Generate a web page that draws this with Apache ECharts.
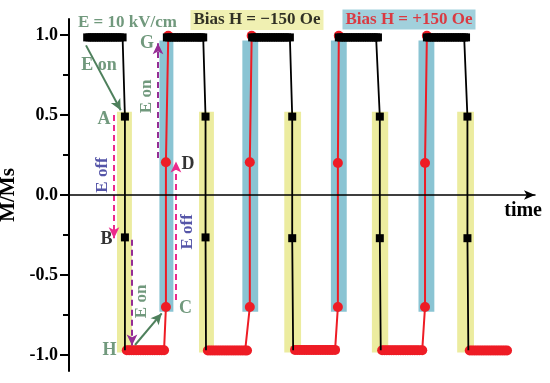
<!DOCTYPE html>
<html><head><meta charset="utf-8">
<script src="https://cdn.jsdelivr.net/npm/echarts@6/dist/echarts.min.js"></script>
<style>html,body{margin:0;padding:0;background:#fff}#c{width:550px;height:383px}</style>
</head><body><div id="c"></div>
<script>
const FONT = '"Liberation Serif","Times New Roman",serif';

// ---- data (time in arbitrary units, M/Ms) ----
// Bias H = -150 Oe (black): plateau times at M ~ 0.985
const blackTopTimes = [
  [3.9,4.4,4.9,5.4,5.9,6.4,6.9,7.4,7.9,8.4,8.9,9.4,9.9,10.4,10.9,11.5],
  [21.0,21.5,22.0,22.5,23.0,23.5,24.0,24.5,25.0,25.5,26.0,26.5,27.0,27.5,28.0,28.4,28.8],
  [39.3,39.8,40.3,40.8,41.3,41.8,42.3,42.8,43.3,43.8,44.3,44.8,45.3,45.8,46.3,46.8,47.4],
  [57.9,58.4,58.9,59.4,59.9,60.4,60.9,61.4,61.9,62.4,62.9,63.4,63.9,64.4,64.9,65.4,65.9,66.3],
  [76.8,77.3,77.8,78.3,78.8,79.3,79.8,80.3,80.8,81.3,81.8,82.3,82.8,83.3,83.8,84.3,84.8,85.2]
];
const blackTopM = [0.985,0.985,0.985,0.985,0.985];
// A, B, bottom for each drop
const blackDrops = [
  [[12.0,0.49],[12.0,-0.265],[12.0,-0.97]],
  [[29.3,0.49],[29.3,-0.265],[29.4,-0.97]],
  [[47.9,0.49],[47.9,-0.27],[48.1,-0.97]],
  [[66.7,0.49],[66.7,-0.27],[66.9,-0.97]],
  [[85.5,0.49],[85.5,-0.27],[85.7,-0.97]]
];
// Bias H = +150 Oe (red): bottom plateau times at M ~ -0.97
const redBottomTimes = [
  [12.4,12.9,13.4,13.9,14.4,14.9,15.4,15.9,16.4,16.9,17.4,17.9,18.4,18.9,19.4,19.9,20.4],
  [29.8,30.3,30.8,31.3,31.8,32.3,32.8,33.3,33.8,34.3,34.8,35.3,35.8,36.3,36.8,37.3,37.8,38.2],
  [48.5,49.0,49.5,50.0,50.5,51.0,51.5,52.0,52.5,53.0,53.5,54.0,54.5,55.0,55.5,56.0,56.5,57.1],
  [67.2,67.7,68.2,68.7,69.2,69.7,70.2,70.7,71.2,71.7,72.2,72.7,73.2,73.7,74.2,74.7,75.2,75.8],
  [86.0,86.5,87.0,87.5,88.0,88.5,89.0,89.5,90.0,90.5,91.0,91.5,92.0,92.5,93.0,93.5,94.0]
];
const redBottomM = [-0.97,-0.972,-0.968,-0.97,-0.972];
// C, D, top for each rise
const redRises = [
  [[20.8,-0.70],[20.8,0.205],[21.3,0.995]],
  [[38.8,-0.70],[38.8,0.205],[39.2,0.995]],
  [[57.7,-0.70],[57.7,0.20],[57.9,0.995]],
  [[76.4,-0.70],[76.4,0.20],[76.8,0.995]]
];
// highlight bands [t0, t1]
const yellowBands = [[10.3,13.5],[27.9,31.1],[46.2,49.8],[65.0,68.5],[83.3,86.9]];
const yellowRange = [-0.985, 0.52];
const blueBands = [[19.4,22.4],[37.2,40.6],[56.2,59.6],[75.0,78.4]];
const blueRange = [-0.73, 0.965];
// y ticks
const yMajor = [-1.0,-0.5,0.0,0.5,1.0];
const yMinor = [-0.75,-0.25,0.25,0.75];

// annotation texts
const GREEN = '#4e805c', NAVY = '#2b2b92', MAG = '#ec2a8c', PURP = '#952d95', RED = '#ee1c25';
const notes = [
  {text:'E = 10 kV/cm', at:[12.55,1.08], color:GREEN, size:17},
  {text:'E on', at:[6.44,0.81], color:GREEN, size:18},
  {text:'A', at:[7.5,0.475], color:GREEN, size:18},
  {text:'E off', at:[7.19,0.125], color:NAVY, size:17, rotate:90},
  {text:'B', at:[8.05,-0.28], color:'#000', size:18},
  {text:'E on', at:[15.67,-0.665], color:GREEN, size:17, rotate:90},
  {text:'H', at:[8.69,-0.97], color:GREEN, size:18},
  {text:'C', at:[25.0,-0.71], color:GREEN, size:18},
  {text:'E off', at:[25.54,-0.23], color:NAVY, size:17, rotate:90},
  {text:'D', at:[25.54,0.19], color:'#000', size:18},
  {text:'G', at:[16.74,0.95], color:GREEN, size:18},
  {text:'E on', at:[16.6,0.616], color:GREEN, size:17, rotate:90}
];
const legendBoxes = [
  {text:'Bias H = \u2212150 Oe', at:[40.34,1.094], color:'#000', bg:'#ecec9f'},
  {text:'Bias H = +150 Oe', at:[72.96,1.097], color:'#e8141c', bg:'#8ac4d3'}
];
// arrows: from, to, color, dashed
const arrows = [
  {from:[3.65,0.935], to:[11.1,0.53], color:GREEN, dashed:false},
  {from:[9.66,0.50], to:[9.66,-0.27], color:MAG, dashed:true},
  {from:[13.52,-0.28], to:[13.52,-0.94], color:PURP, dashed:true},
  {from:[14.16,-0.9375], to:[19.89,-0.74], color:GREEN, dashed:false},
  {from:[22.96,-0.656], to:[22.96,0.21], color:MAG, dashed:true},
  {from:[19.1,0.231], to:[19.1,0.948], color:PURP, dashed:true}
];

// ---- build series data ----
const GAP = ['-','-'];
const blackData = [];
blackTopTimes.forEach((ts,i)=>{
  ts.forEach(t=>blackData.push([t, blackTopM[i]]));
  blackDrops[i].forEach((p,j)=>blackData.push(j===2 ? {value:p, symbol:'none'} : p));
  blackData.push(GAP);
});
const redData = [];
redBottomTimes.forEach((ts,i)=>{
  ts.forEach(t=>redData.push([t, redBottomM[i]]));
  if (redRises[i]) redRises[i].forEach(p=>redData.push(p));
  redData.push(GAP);
});

const areaData = [];
yellowBands.forEach(b=>areaData.push([{xAxis:b[0], yAxis:yellowRange[0], itemStyle:{color:'#ecec9f'}},{xAxis:b[1], yAxis:yellowRange[1]}]));
blueBands.forEach(b=>areaData.push([{xAxis:b[0], yAxis:blueRange[0], itemStyle:{color:'#8ac4d3'}},{xAxis:b[1], yAxis:blueRange[1]}]));

const lineData = arrows.map(a=>[
  {coord:a.from, lineStyle:{color:a.color, width:2, type:a.dashed?[6,4]:'solid'}, itemStyle:{color:a.color}},
  {coord:a.to}
]);

const noteData = notes.map(n=>({
  value:n.at,
  label:{show:true, position:'inside', formatter:n.text, color:n.color, fontSize:n.size,
    fontFamily:FONT, fontWeight:'bold', rotate:n.rotate||0, align:'center', verticalAlign:'middle'}
}));
legendBoxes.forEach(b=>noteData.push({
  value:b.at,
  label:{show:true, position:'inside', formatter:b.text, color:b.color, fontSize:17,
    fontFamily:FONT, fontWeight:'bold', backgroundColor:b.bg, padding:[2,3,1,3], align:'center', verticalAlign:'middle'}
}));

const chart = echarts.init(document.getElementById('c'));
chart.setOption({
  animation:false,
  backgroundColor:'#fff',
  grid:{left:69, right:15, top:19, bottom:12, containLabel:false, outerBoundsMode:'none'},
  xAxis:{type:'value', min:0, max:100, z:10,
    axisLine:{show:true, onZero:true, lineStyle:{color:'#000', width:1.5}, symbol:['none','arrow'], symbolSize:[7,11]},
    axisTick:{show:false}, axisLabel:{show:false}, splitLine:{show:false},
    name:'time', nameLocation:'end', nameGap:7,
    nameTextStyle:{fontFamily:FONT, fontWeight:'bold', fontSize:20, color:'#000', align:'right', verticalAlign:'top', padding:[6,0,0,0]}
  },
  yAxis:[
    {type:'value', min:-1.1, max:1.1, z:10,
      axisLine:{show:true, onZero:false, lineStyle:{color:'#000', width:2}},
      axisTick:{show:true, customValues:yMajor, length:9, lineStyle:{color:'#000', width:2}},
      axisLabel:{show:true, customValues:yMajor, formatter:v=>Number(v).toFixed(1), margin:11,
        fontFamily:FONT, fontWeight:'bold', fontSize:18, color:'#000'},
      splitLine:{show:false},
      name:'M/Ms', nameLocation:'middle', nameGap:40, nameRotate:90,
      nameTextStyle:{fontFamily:FONT, fontWeight:'bold', fontSize:21, color:'#000'}
    },
    {type:'value', min:-1.1, max:1.1, position:'left', z:10,
      axisLine:{show:false},
      axisTick:{show:true, customValues:yMinor, length:6, lineStyle:{color:'#000', width:2}},
      axisLabel:{show:false}, splitLine:{show:false}
    }
  ],
  series:[
    {name:'Bias H = +150 Oe', type:'line', z:2, data:redData, symbol:'circle', symbolSize:10,
      itemStyle:{color:RED}, lineStyle:{color:RED, width:2}, connectNulls:false,
      markArea:{silent:true, data:areaData}
    },
    {name:'Bias H = -150 Oe', type:'line', z:3, data:blackData, symbol:'rect', symbolSize:8,
      itemStyle:{color:'#000'}, lineStyle:{color:'#000', width:1.8}, connectNulls:false
    },
    {name:'notes', type:'scatter', z:6, data:noteData, symbolSize:1, itemStyle:{color:'rgba(0,0,0,0)'}, silent:true,
      markLine:{silent:true, symbol:['none','arrow'], symbolSize:[8,11], label:{show:false}, data:lineData}
    }
  ]
});
</script></body></html>
